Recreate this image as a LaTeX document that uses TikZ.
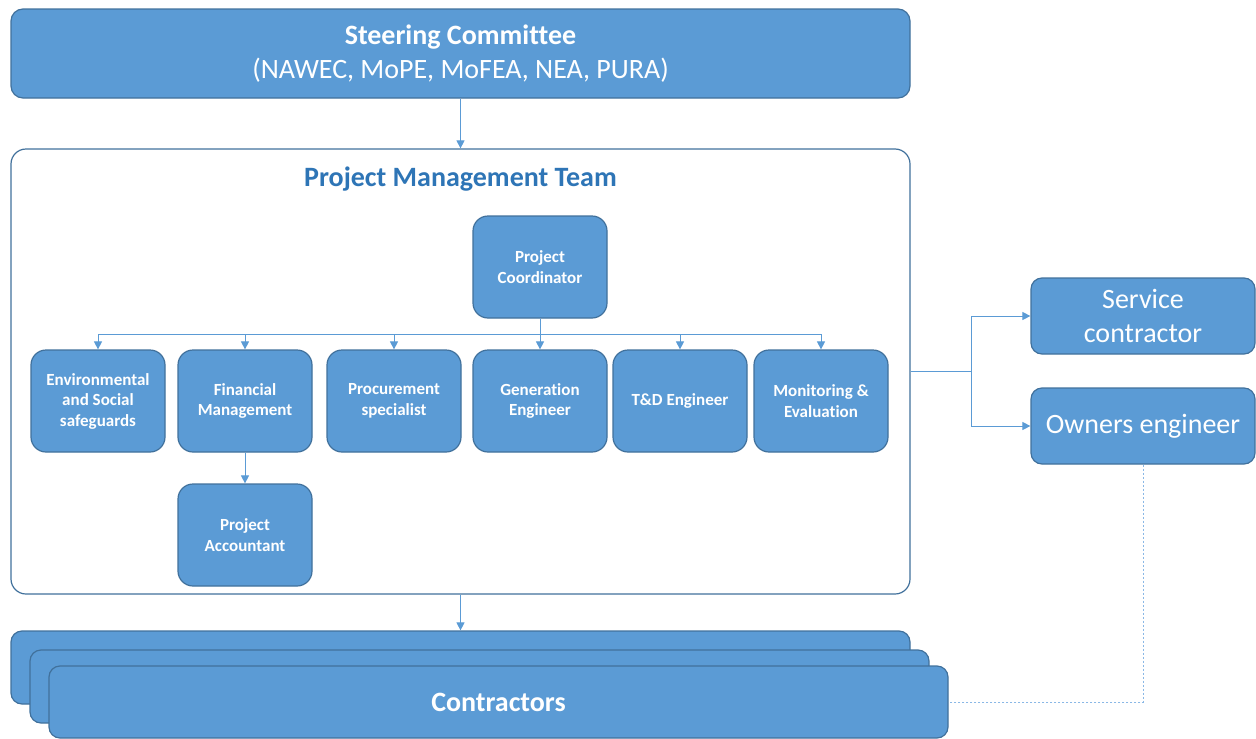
\documentclass[tikz,border=0pt]{standalone}
\usepackage{fontspec}
\setmainfont{Carlito}[Ligatures={NoCommon}]
\usetikzlibrary{arrows.meta}
\definecolor{boxfill}{HTML}{5B9BD5}
\definecolor{boxline}{HTML}{41719C}
\definecolor{linkcol}{HTML}{5B9BD5}
\definecolor{titlecol}{HTML}{2E75B6}
\definecolor{dotcol}{HTML}{8AB8E6}
\tikzset{
  unit/.style={draw=boxline, line width=1.2pt, fill=boxfill, text=white,
    rounded corners=15pt, inner sep=0pt, align=center,
    minimum width=134pt, minimum height=102pt,
    font=\bfseries\fontsize{17}{20.5}\selectfont},
  wide/.style={draw=boxline, line width=1.2pt, fill=boxfill, text=white,
    rounded corners=12pt, inner sep=0pt, align=center,
    font=\fontsize{28}{33.6}\selectfont},
  frame/.style={draw=boxline, line width=1.2pt, fill=white,
    rounded corners=15pt, inner sep=0pt},
  conn/.style={draw=linkcol, line width=0.9pt,
    -{Triangle[length=8pt,width=8pt]}},
  plain/.style={draw=linkcol, line width=0.9pt},
  dotlink/.style={draw=dotcol, line width=1pt, dash pattern=on 2pt off 2pt}
}
\begin{document}
\begin{tikzpicture}[x=1pt,y=-1pt]
\useasboundingbox (0,0) rectangle (1256,739);

% steering committee
\node[wide, minimum width=899pt, minimum height=89pt] (steer) at (460.5,53.5)
  {\textbf{Steering Committee}\\(NAWEC, MoPE, MoFEA, NEA, PURA)};

% project management team frame
\node[frame, minimum width=899pt, minimum height=445pt] (pmt) at (460.5,371.5) {};
\node[text=titlecol, font=\bfseries\fontsize{28}{33.6}\selectfont] (pmttitle) at (460.5,179) {Project Management Team};

% team members
\node[unit] (coord) at (540,267) {Project\\Coordinator};
\node[unit] (env) at (98,401) {Environmental\\and Social\\safeguards};
\node[unit] (fin) at (245,401) {Financial\\Management};
\node[unit] (proc) at (394,401) {Procurement\\specialist};
\node[unit] (gen) at (540,401) {Generation\\Engineer};
\node[unit] (td) at (680,401) {T\&D Engineer};
\node[unit] (me) at (821,401) {Monitoring \&\\Evaluation};
\node[unit] (acc) at (245,535) {Project\\Accountant};

% external parties
\node[wide, rounded corners=11pt, minimum width=224pt, minimum height=76pt] (svc) at (1143,316) {Service\\contractor};
\node[wide, rounded corners=11pt, minimum width=224pt, minimum height=76pt] (own) at (1143,426) {Owners engineer};

% stacked contractor boxes
\node[wide, rounded corners=11pt, minimum width=899pt, minimum height=73pt] (ctrA) at (460.5,667.5) {};
\node[wide, rounded corners=11pt, minimum width=899pt, minimum height=73pt] (ctrB) at (479.5,686.5) {};
\node[wide, rounded corners=11pt, minimum width=899pt, minimum height=72pt, font=\bfseries\fontsize{28}{33.6}\selectfont] (ctrC) at (498.5,702) {Contractors};

% connectors
\coordinate (bus) at (540,334);
\coordinate (split) at (971,371.5);
\draw[conn] (steer.south) -- (pmt.north);
\draw[conn] (pmt.south) -- (ctrA.north);
\draw[conn] (coord.south) -- (gen.north);
\draw[conn] (bus) -| (env.north);
\draw[conn] (bus) -| (fin.north);
\draw[conn] (bus) -| (proc.north);
\draw[conn] (bus) -| (td.north);
\draw[conn] (bus) -| (me.north);
\draw[conn] (fin.south) -- (acc.north);
\draw[plain] (pmt.east) -- (split);
\draw[conn] (split) |- (svc.west);
\draw[conn] (split) |- (own.west);
\draw[dotlink] (own.south) |- (ctrC.east);
\end{tikzpicture}
\end{document}
